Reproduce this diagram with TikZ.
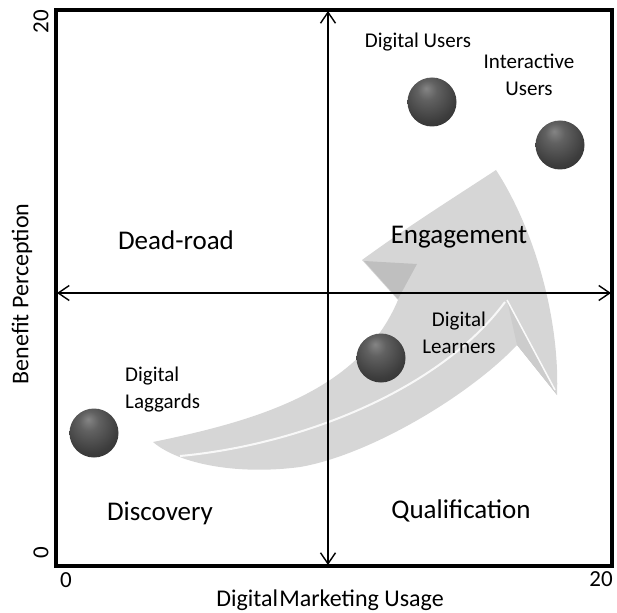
\documentclass[tikz,border=0pt]{standalone}
\usepackage{fontspec}
\setmainfont{Carlito}
\usetikzlibrary{arrows.meta}
\pgfdeclareradialshading{darkball}{\pgfpoint{-6bp}{14bp}}{%
  color(0bp)=(black!48); color(10bp)=(black!62); color(28bp)=(black!76);
  color(48bp)=(black!86); color(70bp)=(black!92)}
\begin{document}
\begin{tikzpicture}[x=1pt,y=-1pt,
  quad/.style={font=\fontsize{27}{32}\selectfont, inner sep=0pt},
  lbl/.style={font=\fontsize{21}{27}\selectfont, inner sep=0pt, align=center},
  axlbl/.style={font=\fontsize{24}{28}\selectfont, inner sep=0pt},
  tick/.style={font=\fontsize{23}{28}\selectfont, inner sep=0pt},
  ball/.style={circle, minimum size=49pt, inner sep=0pt, shading=darkball},
  axisarrow/.style={line width=1.4pt, {Straight Barb[length=11pt,width=15pt,line width=1.4pt]}-{Straight Barb[length=11pt,width=15pt,line width=1.4pt]}},
  arrowgray/.style={fill=black!16}
]
\useasboundingbox (0,0) rectangle (617,612);

% big faded arrow
\fill[arrowgray] (153,442) .. controls (260,420) and (360,390) .. (398,300)
  -- (362,260) .. controls (410,225) and (458,195) .. (496,170)
  .. controls (535,230) and (560,320) .. (557,395)
  -- (517,345) .. controls (470,395) and (370,455) .. (300,467)
  .. controls (240,475) and (180,465) .. (153,442) -- cycle;
\fill[black!25] (364,261) -- (417,264) -- (398,299) -- cycle;
\fill[black!20] (507,300) -- (557,395) -- (517,345) -- cycle;
\draw[white, line width=1.5pt, opacity=0.9] (507,300) -- (555,390);
\draw[white, line width=2pt, opacity=0.85] (180,456) .. controls (300,445) and (440,390) .. (505,302);

% frame
\coordinate (tl) at (56,10);
\coordinate (br) at (612,566);
\draw[line width=3.5pt] (tl) rectangle (br);

% axes
\coordinate (xl) at (57,293);
\coordinate (xr) at (611,293);
\coordinate (yt) at (328,11);
\coordinate (yb) at (328,565);
\draw[axisarrow] (xl) -- (xr);
\draw[axisarrow] (yt) -- (yb);

% tick labels
\node[tick, rotate=90] (t20y) at (41,22) {20};
\node[tick, rotate=90] (t0y) at (41,553) {0};
\node[tick] (t0x) at (66,580) {0};
\node[tick] (t20x) at (601,579) {20};

% axis titles
\node[axlbl] (xtitle) at (330,600) {Digital\hspace{0.05em}Marketing Usage};
\node[axlbl, rotate=90] (ytitle) at (22,294) {Benefit Perception};

% quadrant labels
\node[quad] (dead) at (176,240) {Dead-road};
\node[quad] (eng) at (459,237) {Engagement};
\node[quad] (disc) at (160,513) {Discovery};
\node[quad] (qual) at (461,511) {Qualification};

% balls
\node[ball] (bUsers) at (432,102) {};
\node[ball] (bInter) at (560,145) {};
\node[ball] (bLag) at (94,433) {};
\node[ball] (bLearn) at (381,358) {};

% ball labels
\node[lbl] (lUsers) at (418,42) {Digital Users};
\node[lbl] (lInter) at (529,75) {Interactive\\Users};
\node[lbl, align=left, anchor=west] (lLag) at (125,390) {Digital\\Laggards};
\node[lbl] (lLearn) at (459,333) {Digital\\Learners};
\end{tikzpicture}
\end{document}
